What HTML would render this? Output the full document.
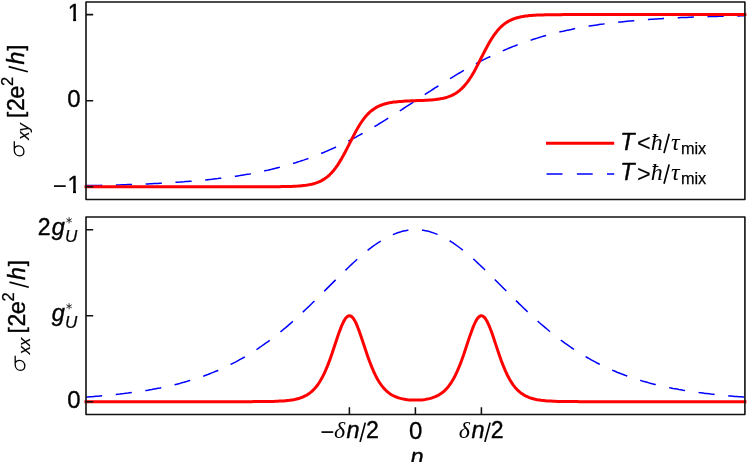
<!DOCTYPE html>
<html><head><meta charset="utf-8"><title>figure</title>
<style>
html,body{margin:0;padding:0;background:#fff}
body{width:747px;height:462px;overflow:hidden;font-family:"Liberation Sans",sans-serif}
svg{display:block;will-change:transform}
.s{font-family:"Liberation Sans",sans-serif}
.r{font-family:"Liberation Serif",serif}
.i{font-style:italic}
</style></head><body>
<svg width="747" height="462" viewBox="0 0 747 462">
<rect width="747" height="462" fill="#fff"/>
<g fill="none" stroke-linejoin="round">
<path d="M86.0 185.6L88.0 185.6L90.0 185.6L92.0 185.5L94.0 185.5L96.0 185.4L98.0 185.4L100.0 185.4L102.0 185.3L104.0 185.3L106.0 185.2L108.0 185.2L110.0 185.1L112.0 185.1L114.0 185.0L116.0 185.0L117.9 184.9L119.9 184.9L121.9 184.8L123.9 184.7L125.9 184.7L127.9 184.6L129.9 184.6L131.9 184.5L133.9 184.4L135.9 184.3L137.9 184.3L139.9 184.2L141.9 184.1L143.9 184.0L145.9 183.9L147.9 183.9L149.9 183.8L151.9 183.7L153.9 183.6L155.9 183.5L157.9 183.4L159.9 183.3L161.9 183.2L163.9 183.1L165.9 183.0L167.9 182.8L169.9 182.7L171.9 182.6L173.9 182.5L175.8 182.3L177.8 182.2L179.8 182.1L181.8 181.9L183.8 181.8L185.8 181.6L187.8 181.5L189.8 181.3L191.8 181.2L193.8 181.0L195.8 180.8L197.8 180.7L199.8 180.5L201.8 180.3L203.8 180.1L205.8 179.9L207.8 179.7L209.8 179.5L211.8 179.3L213.8 179.0L215.8 178.8L217.8 178.6L219.8 178.3L221.8 178.1L223.8 177.8L225.8 177.6L227.8 177.3L229.8 177.0L231.8 176.8L233.8 176.5L235.8 176.2L237.7 175.9L239.7 175.6L241.7 175.2L243.7 174.9L245.7 174.6L247.7 174.2L249.7 173.9L251.7 173.5L253.7 173.1L255.7 172.7L257.7 172.3L259.7 171.9L261.7 171.5L263.7 171.1L265.7 170.6L267.7 170.2L269.7 169.7L271.7 169.3L273.7 168.8L275.7 168.3L277.7 167.8L279.7 167.3L281.7 166.7L283.7 166.2L285.7 165.6L287.7 165.1L289.7 164.5L291.7 163.9L293.7 163.3L295.6 162.7L297.6 162.0L299.6 161.4L301.6 160.7L303.6 160.1L305.6 159.4L307.6 158.7L309.6 157.9L311.6 157.2L313.6 156.5L315.6 155.7L317.6 154.9L319.6 154.1L321.6 153.3L323.6 152.5L325.6 151.6L327.6 150.8L329.6 149.9L331.6 149.0L333.6 148.1L335.6 147.2L337.6 146.3L339.6 145.4L341.6 144.4L343.6 143.4L345.6 142.4L347.6 141.4L349.6 140.4L351.6 139.4L353.6 138.3L355.6 137.3L357.5 136.2L359.5 135.1L361.5 134.0L363.5 132.9L365.5 131.8L367.5 130.6L369.5 129.5L371.5 128.3L373.5 127.1L375.5 126.0L377.5 124.8L379.5 123.5L381.5 122.3L383.5 121.1L385.5 119.9L387.5 118.6L389.5 117.4L391.5 116.1L393.5 114.9L395.5 113.6L397.5 112.3L399.5 111.0L401.5 109.8L403.5 108.5L405.5 107.2L407.5 105.9L409.5 104.6L411.5 103.3L413.5 102.0L415.4 100.7L417.4 99.4L419.4 98.1L421.4 96.8L423.4 95.5L425.4 94.2L427.4 92.9L429.4 91.6L431.4 90.3L433.4 89.0L435.4 87.7L437.4 86.5L439.4 85.2L441.4 84.0L443.4 82.7L445.4 81.5L447.4 80.2L449.4 79.0L451.4 77.8L453.4 76.6L455.4 75.4L457.4 74.2L459.4 73.0L461.4 71.9L463.4 70.7L465.4 69.6L467.4 68.5L469.4 67.3L471.4 66.2L473.4 65.2L475.4 64.1L477.3 63.0L479.3 62.0L481.3 60.9L483.3 59.9L485.3 58.9L487.3 57.9L489.3 57.0L491.3 56.0L493.3 55.1L495.3 54.1L497.3 53.2L499.3 52.3L501.3 51.4L503.3 50.6L505.3 49.7L507.3 48.9L509.3 48.0L511.3 47.2L513.3 46.4L515.3 45.7L517.3 44.9L519.3 44.2L521.3 43.4L523.3 42.7L525.3 42.0L527.3 41.3L529.3 40.6L531.3 40.0L533.3 39.3L535.2 38.7L537.2 38.1L539.2 37.5L541.2 36.9L543.2 36.3L545.2 35.7L547.2 35.2L549.2 34.6L551.2 34.1L553.2 33.6L555.2 33.1L557.2 32.6L559.2 32.1L561.2 31.6L563.2 31.2L565.2 30.7L567.2 30.3L569.2 29.9L571.2 29.5L573.2 29.0L575.2 28.6L577.2 28.3L579.2 27.9L581.2 27.5L583.2 27.2L585.2 26.8L587.2 26.5L589.2 26.1L591.2 25.8L593.2 25.5L595.1 25.2L597.1 24.9L599.1 24.6L601.1 24.3L603.1 24.1L605.1 23.8L607.1 23.5L609.1 23.3L611.1 23.0L613.1 22.8L615.1 22.6L617.1 22.3L619.1 22.1L621.1 21.9L623.1 21.7L625.1 21.5L627.1 21.3L629.1 21.1L631.1 20.9L633.1 20.7L635.1 20.6L637.1 20.4L639.1 20.2L641.1 20.1L643.1 19.9L645.1 19.7L647.1 19.6L649.1 19.5L651.1 19.3L653.1 19.2L655.0 19.0L657.0 18.9L659.0 18.8L661.0 18.7L663.0 18.5L665.0 18.4L667.0 18.3L669.0 18.2L671.0 18.1L673.0 18.0L675.0 17.9L677.0 17.8L679.0 17.7L681.0 17.6L683.0 17.5L685.0 17.4L687.0 17.4L689.0 17.3L691.0 17.2L693.0 17.1L695.0 17.1L697.0 17.0L699.0 16.9L701.0 16.8L703.0 16.8L705.0 16.7L707.0 16.7L709.0 16.6L711.0 16.5L713.0 16.5L715.0 16.4L716.9 16.4L718.9 16.3L720.9 16.3L722.9 16.2L724.9 16.2L726.9 16.1L728.9 16.1L730.9 16.0L732.9 16.0L734.9 15.9L736.9 15.9L738.9 15.9L740.9 15.8L742.9 15.8L744.9 15.8" stroke="#0000ff" stroke-width="1.5" stroke-dasharray="16.2 13.65"/>
<path d="M86.0 186.8L88.0 186.8L90.0 186.8L92.0 186.8L94.0 186.8L96.0 186.8L98.0 186.8L100.0 186.8L102.0 186.8L104.0 186.8L106.0 186.8L108.0 186.8L110.0 186.8L112.0 186.8L114.0 186.8L116.0 186.8L117.9 186.8L119.9 186.8L121.9 186.8L123.9 186.8L125.9 186.8L127.9 186.8L129.9 186.8L131.9 186.8L133.9 186.8L135.9 186.8L137.9 186.8L139.9 186.8L141.9 186.8L143.9 186.8L145.9 186.8L147.9 186.8L149.9 186.8L151.9 186.8L153.9 186.8L155.9 186.8L157.9 186.8L159.9 186.8L161.9 186.8L163.9 186.8L165.9 186.8L167.9 186.8L169.9 186.8L171.9 186.8L173.9 186.8L175.8 186.8L177.8 186.8L179.8 186.8L181.8 186.8L183.8 186.8L185.8 186.8L187.8 186.8L189.8 186.8L191.8 186.8L193.8 186.8L195.8 186.8L197.8 186.8L199.8 186.8L201.8 186.8L203.8 186.8L205.8 186.8L207.8 186.8L209.8 186.8L211.8 186.8L213.8 186.8L215.8 186.8L217.8 186.8L219.8 186.8L221.8 186.8L223.8 186.8L225.8 186.8L227.8 186.8L229.8 186.8L231.8 186.8L233.8 186.8L235.8 186.8L237.7 186.8L239.7 186.8L241.7 186.8L243.7 186.8L245.7 186.8L247.7 186.8L249.7 186.8L251.7 186.8L253.7 186.8L255.7 186.8L257.7 186.8L259.7 186.8L261.7 186.8L263.7 186.8L265.7 186.8L267.7 186.8L269.7 186.7L271.7 186.7L273.7 186.7L275.7 186.7L277.7 186.7L279.7 186.7L281.7 186.6L283.7 186.6L285.7 186.6L287.7 186.5L289.7 186.4L291.7 186.4L293.7 186.3L295.6 186.2L297.6 186.1L299.6 185.9L301.6 185.7L303.6 185.5L305.6 185.3L307.6 185.0L309.6 184.6L311.6 184.2L313.6 183.7L315.6 183.1L317.6 182.4L319.6 181.6L321.6 180.6L323.6 179.4L325.6 178.1L327.6 176.6L329.6 174.8L331.6 172.8L333.6 170.5L335.6 167.9L337.6 165.1L339.6 161.9L341.6 158.6L343.6 155.0L345.6 151.2L347.6 147.4L349.6 143.4L351.6 139.5L353.6 135.6L355.6 131.9L357.5 128.4L359.5 125.0L361.5 122.0L363.5 119.2L365.5 116.6L367.5 114.4L369.5 112.4L371.5 110.7L373.5 109.2L375.5 107.9L377.5 106.7L379.5 105.8L381.5 105.0L383.5 104.3L385.5 103.7L387.5 103.2L389.5 102.8L391.5 102.4L393.5 102.1L395.5 101.9L397.5 101.7L399.5 101.5L401.5 101.4L403.5 101.2L405.5 101.1L407.5 101.0L409.5 100.9L411.5 100.8L413.5 100.8L415.4 100.7L417.4 100.6L419.4 100.5L421.4 100.5L423.4 100.4L425.4 100.3L427.4 100.2L429.4 100.0L431.4 99.9L433.4 99.7L435.4 99.5L437.4 99.2L439.4 98.9L441.4 98.6L443.4 98.2L445.4 97.7L447.4 97.1L449.4 96.4L451.4 95.6L453.4 94.6L455.4 93.5L457.4 92.2L459.4 90.6L461.4 88.9L463.4 86.9L465.4 84.6L467.4 82.1L469.4 79.3L471.4 76.2L473.4 72.9L475.4 69.3L477.3 65.6L479.3 61.7L481.3 57.8L483.3 53.8L485.3 50.0L487.3 46.2L489.3 42.6L491.3 39.3L493.3 36.2L495.3 33.4L497.3 30.8L499.3 28.5L501.3 26.5L503.3 24.8L505.3 23.2L507.3 21.9L509.3 20.8L511.3 19.8L513.3 19.0L515.3 18.3L517.3 17.7L519.3 17.2L521.3 16.8L523.3 16.4L525.3 16.1L527.3 15.9L529.3 15.6L531.3 15.5L533.3 15.3L535.2 15.2L537.2 15.1L539.2 15.0L541.2 15.0L543.2 14.9L545.2 14.8L547.2 14.8L549.2 14.8L551.2 14.7L553.2 14.7L555.2 14.7L557.2 14.7L559.2 14.7L561.2 14.7L563.2 14.6L565.2 14.6L567.2 14.6L569.2 14.6L571.2 14.6L573.2 14.6L575.2 14.6L577.2 14.6L579.2 14.6L581.2 14.6L583.2 14.6L585.2 14.6L587.2 14.6L589.2 14.6L591.2 14.6L593.2 14.6L595.1 14.6L597.1 14.6L599.1 14.6L601.1 14.6L603.1 14.6L605.1 14.6L607.1 14.6L609.1 14.6L611.1 14.6L613.1 14.6L615.1 14.6L617.1 14.6L619.1 14.6L621.1 14.6L623.1 14.6L625.1 14.6L627.1 14.6L629.1 14.6L631.1 14.6L633.1 14.6L635.1 14.6L637.1 14.6L639.1 14.6L641.1 14.6L643.1 14.6L645.1 14.6L647.1 14.6L649.1 14.6L651.1 14.6L653.1 14.6L655.0 14.6L657.0 14.6L659.0 14.6L661.0 14.6L663.0 14.6L665.0 14.6L667.0 14.6L669.0 14.6L671.0 14.6L673.0 14.6L675.0 14.6L677.0 14.6L679.0 14.6L681.0 14.6L683.0 14.6L685.0 14.6L687.0 14.6L689.0 14.6L691.0 14.6L693.0 14.6L695.0 14.6L697.0 14.6L699.0 14.6L701.0 14.6L703.0 14.6L705.0 14.6L707.0 14.6L709.0 14.6L711.0 14.6L713.0 14.6L715.0 14.6L716.9 14.6L718.9 14.6L720.9 14.6L722.9 14.6L724.9 14.6L726.9 14.6L728.9 14.6L730.9 14.6L732.9 14.6L734.9 14.6L736.9 14.6L738.9 14.6L740.9 14.6L742.9 14.6L744.9 14.6" stroke="#ff0000" stroke-width="3" stroke-linecap="square"/>
<path d="M86.0 397.1L88.0 396.9L90.0 396.8L92.0 396.7L94.0 396.5L96.0 396.3L98.0 396.2L100.0 396.0L102.0 395.8L104.0 395.7L106.0 395.5L108.0 395.3L110.0 395.1L112.0 394.9L114.0 394.7L116.0 394.5L117.9 394.3L119.9 394.1L121.9 393.8L123.9 393.6L125.9 393.3L127.9 393.1L129.9 392.8L131.9 392.6L133.9 392.3L135.9 392.0L137.9 391.7L139.9 391.4L141.9 391.1L143.9 390.8L145.9 390.5L147.9 390.2L149.9 389.8L151.9 389.5L153.9 389.1L155.9 388.7L157.9 388.3L159.9 388.0L161.9 387.5L163.9 387.1L165.9 386.7L167.9 386.3L169.9 385.8L171.9 385.3L173.9 384.9L175.8 384.4L177.8 383.9L179.8 383.4L181.8 382.8L183.8 382.3L185.8 381.7L187.8 381.1L189.8 380.6L191.8 379.9L193.8 379.3L195.8 378.7L197.8 378.0L199.8 377.4L201.8 376.7L203.8 376.0L205.8 375.2L207.8 374.5L209.8 373.7L211.8 372.9L213.8 372.1L215.8 371.3L217.8 370.5L219.8 369.6L221.8 368.7L223.8 367.8L225.8 366.9L227.8 365.9L229.8 364.9L231.8 363.9L233.8 362.9L235.8 361.9L237.7 360.8L239.7 359.7L241.7 358.6L243.7 357.5L245.7 356.3L247.7 355.1L249.7 353.9L251.7 352.6L253.7 351.4L255.7 350.1L257.7 348.8L259.7 347.4L261.7 346.0L263.7 344.6L265.7 343.2L267.7 341.8L269.7 340.3L271.7 338.8L273.7 337.3L275.7 335.7L277.7 334.1L279.7 332.5L281.7 330.9L283.7 329.2L285.7 327.6L287.7 325.9L289.7 324.1L291.7 322.4L293.7 320.6L295.6 318.8L297.6 317.0L299.6 315.2L301.6 313.3L303.6 311.4L305.6 309.5L307.6 307.6L309.6 305.7L311.6 303.8L313.6 301.8L315.6 299.9L317.6 297.9L319.6 295.9L321.6 293.9L323.6 291.9L325.6 289.9L327.6 287.9L329.6 285.9L331.6 283.9L333.6 281.9L335.6 279.9L337.6 277.9L339.6 276.0L341.6 274.0L343.6 272.0L345.6 270.1L347.6 268.2L349.6 266.3L351.6 264.4L353.6 262.5L355.6 260.7L357.5 258.9L359.5 257.2L361.5 255.4L363.5 253.7L365.5 252.1L367.5 250.5L369.5 248.9L371.5 247.4L373.5 245.9L375.5 244.5L377.5 243.1L379.5 241.8L381.5 240.6L383.5 239.4L385.5 238.2L387.5 237.2L389.5 236.2L391.5 235.2L393.5 234.4L395.5 233.6L397.5 232.8L399.5 232.2L401.5 231.6L403.5 231.1L405.5 230.7L407.5 230.3L409.5 230.0L411.5 229.9L413.5 229.7L415.4 229.7L417.4 229.7L419.4 229.9L421.4 230.1L423.4 230.3L425.4 230.7L427.4 231.1L429.4 231.6L431.4 232.2L433.4 232.9L435.4 233.6L437.4 234.4L439.4 235.3L441.4 236.2L443.4 237.2L445.4 238.3L447.4 239.4L449.4 240.6L451.4 241.9L453.4 243.2L455.4 244.6L457.4 246.0L459.4 247.5L461.4 249.0L463.4 250.6L465.4 252.2L467.4 253.8L469.4 255.5L471.4 257.3L473.4 259.0L475.4 260.8L477.3 262.6L479.3 264.5L481.3 266.4L483.3 268.3L485.3 270.2L487.3 272.1L489.3 274.1L491.3 276.1L493.3 278.0L495.3 280.0L497.3 282.0L499.3 284.0L501.3 286.0L503.3 288.0L505.3 290.0L507.3 292.0L509.3 294.0L511.3 296.0L513.3 298.0L515.3 300.0L517.3 301.9L519.3 303.9L521.3 305.8L523.3 307.7L525.3 309.6L527.3 311.5L529.3 313.4L531.3 315.3L533.3 317.1L535.2 318.9L537.2 320.7L539.2 322.5L541.2 324.2L543.2 325.9L545.2 327.6L547.2 329.3L549.2 331.0L551.2 332.6L553.2 334.2L555.2 335.8L557.2 337.3L559.2 338.9L561.2 340.4L563.2 341.8L565.2 343.3L567.2 344.7L569.2 346.1L571.2 347.5L573.2 348.8L575.2 350.1L577.2 351.4L579.2 352.7L581.2 353.9L583.2 355.2L585.2 356.4L587.2 357.5L589.2 358.7L591.2 359.8L593.2 360.9L595.1 361.9L597.1 363.0L599.1 364.0L601.1 365.0L603.1 366.0L605.1 366.9L607.1 367.8L609.1 368.7L611.1 369.6L613.1 370.5L615.1 371.3L617.1 372.2L619.1 373.0L621.1 373.8L623.1 374.5L625.1 375.3L627.1 376.0L629.1 376.7L631.1 377.4L633.1 378.1L635.1 378.7L637.1 379.4L639.1 380.0L641.1 380.6L643.1 381.2L645.1 381.7L647.1 382.3L649.1 382.9L651.1 383.4L653.1 383.9L655.0 384.4L657.0 384.9L659.0 385.4L661.0 385.8L663.0 386.3L665.0 386.7L667.0 387.2L669.0 387.6L671.0 388.0L673.0 388.4L675.0 388.7L677.0 389.1L679.0 389.5L681.0 389.8L683.0 390.2L685.0 390.5L687.0 390.8L689.0 391.1L691.0 391.4L693.0 391.7L695.0 392.0L697.0 392.3L699.0 392.6L701.0 392.8L703.0 393.1L705.0 393.4L707.0 393.6L709.0 393.8L711.0 394.1L713.0 394.3L715.0 394.5L716.9 394.7L718.9 394.9L720.9 395.1L722.9 395.3L724.9 395.5L726.9 395.7L728.9 395.9L730.9 396.0L732.9 396.2L734.9 396.4L736.9 396.5L738.9 396.7L740.9 396.8L742.9 397.0L744.9 397.1" stroke="#0000ff" stroke-width="1.5" stroke-dasharray="16.2 13.65"/>
<path d="M86.0 401.7L88.0 401.7L90.0 401.7L92.0 401.7L94.0 401.7L96.0 401.7L98.0 401.7L100.0 401.7L102.0 401.7L104.0 401.7L106.0 401.7L108.0 401.7L110.0 401.7L112.0 401.7L114.0 401.7L116.0 401.7L117.9 401.7L119.9 401.7L121.9 401.7L123.9 401.7L125.9 401.7L127.9 401.7L129.9 401.7L131.9 401.7L133.9 401.7L135.9 401.7L137.9 401.7L139.9 401.7L141.9 401.7L143.9 401.7L145.9 401.7L147.9 401.7L149.9 401.7L151.9 401.7L153.9 401.7L155.9 401.7L157.9 401.7L159.9 401.7L161.9 401.7L163.9 401.7L165.9 401.7L167.9 401.7L169.9 401.7L171.9 401.7L173.9 401.7L175.8 401.7L177.8 401.7L179.8 401.7L181.8 401.7L183.8 401.7L185.8 401.7L187.8 401.7L189.8 401.7L191.8 401.7L193.8 401.7L195.8 401.7L197.8 401.7L199.8 401.7L201.8 401.7L203.8 401.7L205.8 401.7L207.8 401.7L209.8 401.7L211.8 401.7L213.8 401.7L215.8 401.7L217.8 401.7L219.8 401.7L221.8 401.7L223.8 401.7L225.8 401.7L227.8 401.7L229.8 401.7L231.8 401.7L233.8 401.7L235.8 401.7L237.7 401.7L239.7 401.7L241.7 401.7L243.7 401.7L245.7 401.7L247.7 401.7L249.7 401.7L251.7 401.7L253.7 401.6L255.7 401.6L257.7 401.6L259.7 401.6L261.7 401.6L263.7 401.6L265.7 401.5L267.7 401.5L269.7 401.5L271.7 401.4L273.7 401.4L275.7 401.3L277.7 401.2L279.7 401.1L281.7 401.0L283.7 400.9L285.7 400.7L287.7 400.5L289.7 400.3L291.7 400.0L293.7 399.7L295.6 399.3L297.6 398.8L299.6 398.2L301.6 397.5L303.6 396.7L305.6 395.7L307.6 394.6L309.6 393.2L311.6 391.6L313.6 389.7L315.6 387.5L317.6 385.0L319.6 382.0L321.6 378.6L323.6 374.8L325.6 370.4L327.6 365.6L329.6 360.4L331.6 354.7L333.6 348.8L335.6 342.8L337.6 336.8L339.6 331.1L341.6 325.9L343.6 321.6L345.6 318.3L347.6 316.3L349.6 315.7L351.6 316.5L353.6 318.8L355.6 322.2L357.5 326.7L359.5 331.9L361.5 337.7L363.5 343.7L365.5 349.8L367.5 355.7L369.5 361.2L371.5 366.4L373.5 371.2L375.5 375.4L377.5 379.2L379.5 382.5L381.5 385.4L383.5 387.9L385.5 390.0L387.5 391.8L389.5 393.4L391.5 394.7L393.5 395.8L395.5 396.7L397.5 397.5L399.5 398.1L401.5 398.6L403.5 399.1L405.5 399.4L407.5 399.7L409.5 399.9L411.5 400.0L413.5 400.1L415.4 400.1L417.4 400.1L419.4 400.0L421.4 399.9L423.4 399.7L425.4 399.4L427.4 399.0L429.4 398.6L431.4 398.1L433.4 397.4L435.4 396.7L437.4 395.7L439.4 394.6L441.4 393.3L443.4 391.8L445.4 389.9L447.4 387.8L449.4 385.2L451.4 382.3L453.4 379.0L455.4 375.2L457.4 370.9L459.4 366.2L461.4 361.0L463.4 355.4L465.4 349.5L467.4 343.4L469.4 337.4L471.4 331.7L473.4 326.4L475.4 322.0L477.3 318.6L479.3 316.5L481.3 315.7L483.3 316.4L485.3 318.4L487.3 321.8L489.3 326.2L491.3 331.3L493.3 337.1L495.3 343.1L497.3 349.1L499.3 355.0L501.3 360.7L503.3 365.9L505.3 370.7L507.3 375.0L509.3 378.8L511.3 382.2L513.3 385.1L515.3 387.7L517.3 389.8L519.3 391.7L521.3 393.3L523.3 394.6L525.3 395.8L527.3 396.7L529.3 397.6L531.3 398.2L533.3 398.8L535.2 399.3L537.2 399.7L539.2 400.0L541.2 400.3L543.2 400.5L545.2 400.7L547.2 400.9L549.2 401.0L551.2 401.1L553.2 401.2L555.2 401.3L557.2 401.4L559.2 401.4L561.2 401.5L563.2 401.5L565.2 401.5L567.2 401.6L569.2 401.6L571.2 401.6L573.2 401.6L575.2 401.6L577.2 401.6L579.2 401.7L581.2 401.7L583.2 401.7L585.2 401.7L587.2 401.7L589.2 401.7L591.2 401.7L593.2 401.7L595.1 401.7L597.1 401.7L599.1 401.7L601.1 401.7L603.1 401.7L605.1 401.7L607.1 401.7L609.1 401.7L611.1 401.7L613.1 401.7L615.1 401.7L617.1 401.7L619.1 401.7L621.1 401.7L623.1 401.7L625.1 401.7L627.1 401.7L629.1 401.7L631.1 401.7L633.1 401.7L635.1 401.7L637.1 401.7L639.1 401.7L641.1 401.7L643.1 401.7L645.1 401.7L647.1 401.7L649.1 401.7L651.1 401.7L653.1 401.7L655.0 401.7L657.0 401.7L659.0 401.7L661.0 401.7L663.0 401.7L665.0 401.7L667.0 401.7L669.0 401.7L671.0 401.7L673.0 401.7L675.0 401.7L677.0 401.7L679.0 401.7L681.0 401.7L683.0 401.7L685.0 401.7L687.0 401.7L689.0 401.7L691.0 401.7L693.0 401.7L695.0 401.7L697.0 401.7L699.0 401.7L701.0 401.7L703.0 401.7L705.0 401.7L707.0 401.7L709.0 401.7L711.0 401.7L713.0 401.7L715.0 401.7L716.9 401.7L718.9 401.7L720.9 401.7L722.9 401.7L724.9 401.7L726.9 401.7L728.9 401.7L730.9 401.7L732.9 401.7L734.9 401.7L736.9 401.7L738.9 401.7L740.9 401.7L742.9 401.7L744.9 401.7" stroke="#ff0000" stroke-width="3" stroke-linecap="square"/>
</g>
<g fill="none" stroke="#111" stroke-width="1.6" stroke-linejoin="round">
<rect x="86.0" y="2.0" width="658.9" height="197.5"/>
<rect x="86.0" y="217.0" width="658.9" height="197.5"/>
<path d="M86.0 14.6h7.2M86.0 100.7h7.2M86.0 186.8h7.2M86.0 229.7h7.2M86.0 315.7h7.2M86.0 401.7h7.2M349.4 414.5v-7.2M415.4 414.5v-7.2M481.4 414.5v-7.2" stroke-width="1.55"/>
</g>
<path d="M547.5 143.3H612.7" stroke="#ff0000" stroke-width="3" stroke-linecap="square"/>
<path d="M546.5 173.9h16M576.9 173.9h15.8M607 173.9h7.2" stroke="#0000ff" stroke-width="1.5"/>
<g fill="#000">
<clipPath id="k1"><rect x="64.65" y="-1.30" width="22" height="19.85"/><rect x="73.11" y="18.40" width="2.98" height="3.2"/></clipPath>
<text clip-path="url(#k1)" x="67.65" y="20.70" class="s" font-size="23.5" stroke="#000" stroke-width="0.4">1</text>
<text x="67.16" y="107.20" class="s" stroke="#000" stroke-width="0.30" font-size="24.0">0</text>
<text x="52.82" y="194.10" class="s" stroke="#000" stroke-width="0.10" font-size="24.0">−</text>
<clipPath id="k2"><rect x="64.55" y="170.60" width="22" height="19.85"/><rect x="73.01" y="190.30" width="2.98" height="3.2"/></clipPath>
<text clip-path="url(#k2)" x="67.55" y="192.60" class="s" font-size="23.5" stroke="#000" stroke-width="0.4">1</text>
<text x="67.16" y="407.90" class="s" stroke="#000" stroke-width="0.30" font-size="24.0">0</text>
<text x="37.64" y="235.00" class="s" stroke="#000" stroke-width="0.40" font-size="23.0">2</text>
<text x="51.65" y="235.00" class="s i" stroke="#000" stroke-width="0.40" font-size="23.5">g</text>
<text x="64.93" y="241.90" class="s i" stroke="#000" stroke-width="0.20" font-size="17.0">U</text>
<path d="M69.10 217.20L69.10 223.40M71.78 218.75L66.42 221.85M71.78 221.85L66.42 218.75" stroke="#222" stroke-width="0.9" fill="none"/>
<text x="51.65" y="321.00" class="s i" stroke="#000" stroke-width="0.40" font-size="23.5">g</text>
<text x="64.93" y="327.90" class="s i" stroke="#000" stroke-width="0.20" font-size="17.0">U</text>
<path d="M69.10 303.20L69.10 309.40M71.78 304.75L66.42 307.85M71.78 307.85L66.42 304.75" stroke="#222" stroke-width="0.9" fill="none"/>
<text x="320.32" y="440.20" class="s" stroke="#000" stroke-width="0.10" font-size="24.0">−</text>
<text x="334.00" y="438.40" class="r i" font-size="24.0">δ</text>
<text x="346.61" y="438.40" class="s i" stroke="#000" stroke-width="0.40" font-size="23.5">n</text>
<path d="M360.10 441.90L365.30 422.60" stroke="#000" stroke-width="1.7" fill="none"/>
<text x="365.94" y="438.40" class="s" stroke="#000" stroke-width="0.40" font-size="23.0">2</text>
<text x="458.80" y="438.40" class="r i" font-size="24.0">δ</text>
<text x="471.41" y="438.40" class="s i" stroke="#000" stroke-width="0.40" font-size="23.5">n</text>
<path d="M484.90 441.90L490.10 422.60" stroke="#000" stroke-width="1.7" fill="none"/>
<text x="490.74" y="438.40" class="s" stroke="#000" stroke-width="0.40" font-size="23.0">2</text>
<text x="409.06" y="438.80" class="s" stroke="#000" stroke-width="0.30" font-size="24.0">0</text>
<text x="410.61" y="464.60" class="s i" stroke="#000" stroke-width="0.40" font-size="23.5">n</text>
<text x="620.31" y="149.60" class="s i" stroke="#000" stroke-width="0.40" font-size="23.3">T</text>
<text x="636.94" y="151.00" class="s" stroke="#000" stroke-width="0.05" font-size="23.5">&lt;</text>
<text x="650.83" y="149.60" class="r i" font-size="24.0">ħ</text>
<path d="M664.00 153.10L669.20 133.80" stroke="#000" stroke-width="1.7" fill="none"/>
<text x="671.07" y="149.60" class="r i" font-size="24.0">τ</text>
<text x="680.92" y="153.50" class="s" stroke="#000" stroke-width="0.25" font-size="16.3">mix</text>
<text x="620.31" y="180.20" class="s i" stroke="#000" stroke-width="0.40" font-size="23.3">T</text>
<text x="636.94" y="181.60" class="s" stroke="#000" stroke-width="0.05" font-size="23.5">&gt;</text>
<text x="650.83" y="180.20" class="r i" font-size="24.0">ħ</text>
<path d="M664.00 183.70L669.20 164.40" stroke="#000" stroke-width="1.7" fill="none"/>
<text x="671.07" y="180.20" class="r i" font-size="24.0">τ</text>
<text x="680.92" y="184.10" class="s" stroke="#000" stroke-width="0.25" font-size="16.3">mix</text>
<g transform="translate(24.4 156.6) rotate(-90)">
<path transform="translate(0.20 0.00)" fill="none" stroke="#000" stroke-width="1.3" stroke-linecap="round" stroke-linejoin="round" d="M14.7 -10.1H6.2C2.7 -10.1 0.6 -7.6 0.6 -4.6C0.6 -1.9 2.4 -0.5 5 -0.5C8.3 -0.5 10.6 -3 10.6 -5.8C10.6 -7.9 9.5 -9.4 7.8 -10.1"/>
<text x="16.96" y="4.30" class="s i" stroke="#000" stroke-width="0.15" font-size="16.5">xy</text>
<text x="38.77" y="-1.10" class="s" stroke="#000" stroke-width="0.40" font-size="21.5">[</text>
<text x="45.54" y="0.00" class="s" stroke="#000" stroke-width="0.40" font-size="23.0">2</text>
<text x="57.80" y="0.00" class="s" stroke="#000" stroke-width="0.40" font-size="23.5">e</text>
<text x="70.67" y="-11.50" class="s" stroke="#000" stroke-width="0.25" font-size="16.5">2</text>
<path d="M84.80 3.50L90.00 -15.80" stroke="#000" stroke-width="1.7" fill="none"/>
<text x="92.12" y="0.00" class="s i" stroke="#000" stroke-width="0.40" font-size="23.0">h</text>
<text x="105.83" y="-1.10" class="s" stroke="#000" stroke-width="0.40" font-size="21.5">]</text>
</g>
<g transform="translate(25.3 371.1) rotate(-90)">
<path transform="translate(0.20 0.00)" fill="none" stroke="#000" stroke-width="1.3" stroke-linecap="round" stroke-linejoin="round" d="M14.7 -10.1H6.2C2.7 -10.1 0.6 -7.6 0.6 -4.6C0.6 -1.9 2.4 -0.5 5 -0.5C8.3 -0.5 10.6 -3 10.6 -5.8C10.6 -7.9 9.5 -9.4 7.8 -10.1"/>
<text x="16.96" y="4.30" class="s i" stroke="#000" stroke-width="0.15" font-size="16.5">xx</text>
<text x="37.77" y="-1.10" class="s" stroke="#000" stroke-width="0.40" font-size="21.5">[</text>
<text x="44.54" y="0.00" class="s" stroke="#000" stroke-width="0.40" font-size="23.0">2</text>
<text x="56.80" y="0.00" class="s" stroke="#000" stroke-width="0.40" font-size="23.5">e</text>
<text x="69.67" y="-11.50" class="s" stroke="#000" stroke-width="0.25" font-size="16.5">2</text>
<path d="M83.80 3.50L89.00 -15.80" stroke="#000" stroke-width="1.7" fill="none"/>
<text x="91.12" y="0.00" class="s i" stroke="#000" stroke-width="0.40" font-size="23.0">h</text>
<text x="104.83" y="-1.10" class="s" stroke="#000" stroke-width="0.40" font-size="21.5">]</text>
</g>
</g>
</svg>
</body></html>
